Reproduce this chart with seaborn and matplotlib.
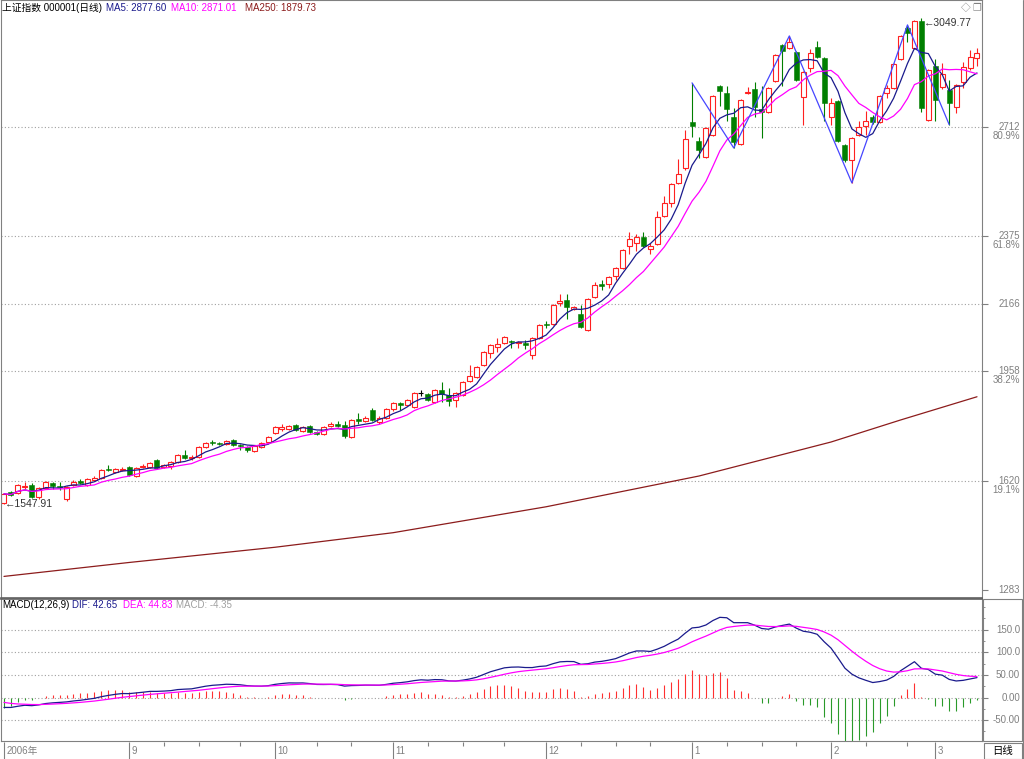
import numpy as np
import pandas as pd
import seaborn as sns
import matplotlib.pyplot as plt
from matplotlib.transforms import blended_transform_factory, offset_copy
from matplotlib.patches import Rectangle
from matplotlib.lines import Line2D

# daily OHLC, Shanghai Composite, 2006-08-08 .. 2007-03-09
opens = [1552, 1586, 1583, 1601, 1607, 1570, 1598, 1613, 1604, 1564,
         1607, 1620, 1607, 1623, 1629, 1657, 1648, 1654, 1663, 1635,
         1664, 1664, 1684, 1664, 1667, 1678, 1700, 1690, 1694, 1725,
         1740, 1737, 1734, 1746, 1731, 1725, 1712, 1725, 1740, 1768,
         1779, 1780, 1792, 1774, 1789, 1771, 1765, 1790, 1795, 1793,
         1755, 1811, 1805, 1839, 1802, 1814, 1842, 1860, 1855, 1848,
         1892, 1888, 1863, 1900, 1885, 1870, 1885, 1928, 1940, 1978,
         2015, 2033, 2046, 2052, 2046, 2046, 2009, 2060, 2105, 2104,
         2169, 2178, 2151, 2135, 2086, 2188, 2227, 2227, 2252, 2277,
         2345, 2354, 2373, 2336, 2351, 2438, 2478, 2540, 2586, 2729,
         2669, 2620, 2688, 2840, 2818, 2744, 2660, 2818, 2830, 2769,
         2760, 2855, 2966, 2957, 2945, 2805, 2895, 2960, 2926, 2744,
         2793, 2657, 2611, 2688, 2716, 2744, 2728, 2818, 2833, 2923,
         3018, 2957, 3040, 2734, 2901, 2836, 2827, 2775, 2852, 2895,
         2926]
highs = [1584, 1589, 1610, 1616, 1613, 1600, 1620, 1616, 1616, 1604,
         1623, 1626, 1629, 1635, 1657, 1669, 1660, 1663, 1666, 1663,
         1672, 1679, 1688, 1673, 1681, 1703, 1715, 1700, 1728, 1740,
         1746, 1740, 1747, 1750, 1734, 1728, 1731, 1740, 1759, 1790,
         1795, 1793, 1795, 1790, 1792, 1774, 1789, 1801, 1804, 1804,
         1811, 1830, 1820, 1845, 1820, 1845, 1863, 1863, 1873, 1894,
         1900, 1891, 1903, 1925, 1907, 1894, 1928, 1978, 1975, 2021,
         2043, 2062, 2067, 2055, 2052, 2055, 2064, 2104, 2113, 2166,
         2197, 2197, 2160, 2163, 2184, 2234, 2240, 2252, 2280, 2336,
         2387, 2382, 2387, 2354, 2453, 2499, 2540, 2614, 2705, 2849,
         2682, 2713, 2811, 2843, 2840, 2770, 2800, 2837, 2852, 2840,
         2836, 2938, 2970, 2994, 2948, 2885, 2954, 2979, 2929, 2802,
         2796, 2660, 2682, 2731, 2763, 2750, 2811, 2842, 2910, 2997,
         3028, 3043, 3049.77, 2892, 2922, 2911, 2858, 2845, 2913, 2951,
         2957]
lows = [1547.91, 1573, 1580, 1595, 1567, 1565, 1596, 1595, 1592, 1558,
        1604, 1610, 1604, 1620, 1626, 1650, 1645, 1650, 1635, 1632,
        1660, 1660, 1657, 1660, 1657, 1676, 1688, 1685, 1691, 1722,
        1731, 1731, 1731, 1728, 1715, 1710, 1710, 1722, 1737, 1765,
        1774, 1776, 1774, 1771, 1768, 1762, 1762, 1786, 1786, 1752,
        1752, 1795, 1802, 1805, 1796, 1811, 1836, 1839, 1852, 1845,
        1882, 1867, 1860, 1863, 1851, 1848, 1882, 1925, 1937, 1975,
        2000, 2018, 2043, 2030, 2030, 2027, 1995, 2057, 2091, 2101,
        2160, 2119, 2148, 2092, 2083, 2184, 2209, 2215, 2240, 2274,
        2320, 2330, 2342, 2320, 2348, 2435, 2466, 2537, 2580, 2682,
        2617, 2617, 2685, 2779, 2731, 2648, 2657, 2815, 2744, 2679,
        2757, 2852, 2840, 2954, 2855, 2719, 2883, 2925, 2731, 2719,
        2666, 2605, 2540, 2685, 2688, 2722, 2725, 2802, 2830, 2920,
        2975, 2954, 2759, 2731, 2731, 2830, 2720, 2756, 2833, 2890,
        2901]
closes = [1580, 1576, 1607, 1605, 1570, 1598, 1616, 1604, 1601, 1601,
          1616, 1614, 1626, 1629, 1654, 1654, 1657, 1657, 1638, 1660,
          1667, 1676, 1660, 1670, 1678, 1700, 1691, 1693, 1725, 1737,
          1737, 1734, 1744, 1731, 1728, 1716, 1728, 1737, 1756, 1787,
          1785, 1788, 1777, 1785, 1771, 1765, 1786, 1795, 1790, 1759,
          1808, 1805, 1814, 1808, 1814, 1842, 1860, 1855, 1870, 1891,
          1892, 1870, 1900, 1888, 1866, 1891, 1925, 1944, 1971, 2018,
          2040, 2043, 2064, 2049, 2049, 2040, 2060, 2101, 2101, 2163,
          2175, 2157, 2157, 2095, 2181, 2224, 2221, 2249, 2277, 2333,
          2367, 2373, 2345, 2345, 2435, 2478, 2537, 2568, 2675, 2715,
          2641, 2710, 2808, 2824, 2768, 2666, 2796, 2821, 2775, 2760,
          2833, 2935, 2948, 2976, 2858, 2882, 2941, 2929, 2787, 2787,
          2670, 2611, 2679, 2713, 2731, 2728, 2808, 2833, 2907, 2994,
          3003, 3040, 2771, 2889, 2796, 2876, 2787, 2842, 2898, 2929,
          2942]

# MA250 read at a few days (needs a year of history we don't have)
ma250_idx = [0, 18, 39, 56, 78, 100, 119, 129, 140]
ma250_val = [1325, 1368, 1415, 1460, 1540, 1635, 1740, 1808, 1879.73]

# hand-drawn wave line (peaks / troughs)
zig_idx = [99, 105, 113, 122, 130, 136]
zig_val = [2849, 2648, 2994, 2540, 3028, 2720]

# MACD state at the left edge of the panel
EMA12_START, EMA26_START, DEA_START = 1600, 1622, -8

month_idx = [0, 18, 39, 56, 78, 99, 119, 134]
month_lbl = ["2006年", "9", "10", "11", "12", "1", "2", "3"]
week_idx = [23, 28, 34, 45, 50, 61, 66, 72, 83, 88, 93, 104, 109, 114, 124, 130]

price_ticks = [2712, 2375, 2166, 1958, 1620, 1283]
fib_lbl = {2712: "80.9%", 2375: "61.8%", 1958: "38.2%", 1620: "19.1%"}
macd_ticks = [150, 100, 50, 0, -50]
macd_lbl = ["150.0", "100.0", "50.00", "0.00", "-50.00"]

RED, GREEN = "#ff2020", "#007f00"
NAVY, MAGENTA, BROWN = "#1a1a8c", "#ff00ff", "#8c1c1c"
ZIG, GRAY = "#4646ff", "#808080"

df = pd.DataFrame({"o": opens, "h": highs, "l": lows, "c": closes})
df["i"] = np.arange(len(df))
df["ma5"] = df.c.rolling(5, min_periods=1).mean()
df["ma10"] = df.c.rolling(10, min_periods=1).mean()


def ema(values, span, start):
    k = 2 / (span + 1)
    out, prev = [], start
    for v in values:
        prev = prev + k * (v - prev)
        out.append(prev)
    return np.array(out)


df["dif"] = ema(df.c, 12, EMA12_START) - ema(df.c, 26, EMA26_START)
df["dea"] = ema(df.dif, 9, DEA_START)
df["macd"] = 2 * (df.dif - df.dea)

sns.set_style("white")
plt.rcParams["font.family"] = ["Liberation Sans", "Noto Sans CJK SC", "DejaVu Sans"]

W, H = 1024, 759
fig = plt.figure(figsize=(W / 100, H / 100), dpi=100)


def box(x0, y0, x1, y1):
    return [x0 / W, 1 - y1 / H, (x1 - x0) / W, (y1 - y0) / H]


ax = fig.add_axes(box(1, 0, 982, 598))
axm = fig.add_axes(box(1, 599, 982, 741))
axs = fig.add_axes(box(1, 742, 982, 759))
XLIM = (-0.43, 140.72)

# ---- candles
up = df[df.c > df.o]
dn = df[df.c < df.o]
flat = df[df.c == df.o]
ax.vlines(up.i, up.c, up.h, color=RED, lw=0.8, zorder=2)
ax.vlines(up.i, up.l, up.o, color=RED, lw=0.8, zorder=2)
ax.bar(up.i, up.c - up.o, bottom=up.o, width=0.72, facecolor="white",
       edgecolor=RED, linewidth=0.8, zorder=2)
ax.vlines(dn.i, dn.l, dn.h, color=GREEN, lw=0.8, zorder=2)
ax.bar(dn.i, dn.o - dn.c, bottom=dn.c, width=0.72, color=GREEN,
       edgecolor=GREEN, linewidth=0.4, zorder=2)
ax.vlines(flat.i, flat.l, flat.h, color="black", lw=0.8, zorder=2)
ax.hlines(flat.c, flat.i - 0.36, flat.i + 0.36, color="black", lw=0.8, zorder=2)

sns.lineplot(data=df, x="i", y="ma5", ax=ax, color=NAVY, lw=0.9, zorder=3)
sns.lineplot(data=df, x="i", y="ma10", ax=ax, color=MAGENTA, lw=0.9, zorder=3)
sns.lineplot(x=ma250_idx, y=ma250_val, ax=ax, color=BROWN, lw=0.9, zorder=3)
sns.lineplot(x=zig_idx, y=zig_val, ax=ax, color=ZIG, lw=0.9, zorder=3)

ax.set_xlim(*XLIM)
ax.set_ylim(1258.3, 3104.9)
ax.hlines(price_ticks[:-1], *XLIM, colors="#a0a0a0", linestyles=(0, (1, 2)), lw=0.8, zorder=1)
ax.set_xticks([])
ax.set_yticks(price_ticks)
ax.tick_params(axis="y", left=False, right=True, labelleft=False, length=4,
               color=GRAY, direction="out")
ax.set_xlabel("")
ax.set_ylabel("")

tr = blended_transform_factory(fig.transFigure, ax.transData)
for p in price_ticks:
    ax.text(1020 / W, p, str(p), transform=tr, ha="right", va="center",
            fontsize=7, color=GRAY)
    if p in fib_lbl:
        ax.text(1020 / W, p, fib_lbl[p], ha="right", va="center", fontsize=7,
                color=GRAY, transform=offset_copy(tr, fig=fig, y=-9, units="dots"))

ax.text(df.i[0] + 0.1, lows[0], "←1547.91", ha="left", va="center", fontsize=7.5, color="#333333")
i_top = int(np.argmax(highs))
ax.text(i_top + 0.3, highs[i_top], "←3049.77", ha="left", va="top", fontsize=7.5, color="#333333")

# ---- MACD
pos = df[df.macd >= 0]
neg = df[df.macd < 0]
axm.vlines(pos.i, 0, pos.macd, color="#ff3030", lw=0.8)
axm.vlines(neg.i, 0, neg.macd, color="#2a9a2a", lw=0.8)
sns.lineplot(data=df, x="i", y="dif", ax=axm, color=NAVY, lw=0.9)
sns.lineplot(data=df, x="i", y="dea", ax=axm, color=MAGENTA, lw=0.9)
axm.set_xlim(*XLIM)
axm.set_ylim(-96.2, 217.9)
axm.hlines(macd_ticks, *XLIM, colors="#a0a0a0", linestyles=(0, (1, 2)), lw=0.8, zorder=0)
axm.set_xticks([])
axm.set_yticks(macd_ticks)
axm.set_yticks(np.arange(-75, 201, 25), minor=True)
axm.tick_params(axis="y", which="both", left=False, right=True, labelleft=False,
                direction="out", color=GRAY)
axm.tick_params(axis="y", which="major", length=4)
axm.tick_params(axis="y", which="minor", length=2)
axm.set_xlabel("")
axm.set_ylabel("")
trm = blended_transform_factory(fig.transFigure, axm.transData)
for v, s in zip(macd_ticks, macd_lbl):
    axm.text(1020 / W, v, s, transform=trm, ha="right", va="center", fontsize=7, color=GRAY)

# ---- date strip
axs.set_xlim(*XLIM)
axs.set_ylim(0, 1)
axs.axis("off")
axs.vlines(month_idx, 0, 1, color=GRAY, lw=0.8)
axs.vlines(week_idx, 0.75, 1, color=GRAY, lw=0.8)
for i, s in zip(month_idx, month_lbl):
    axs.text(i + 0.35, 0.45, s, ha="left", va="center", fontsize=7, color=GRAY)

for a in (ax, axm):
    for sp in a.spines.values():
        sp.set_color(GRAY)
        sp.set_linewidth(0.8)
ax.spines["bottom"].set_color("#606060")
ax.spines["bottom"].set_linewidth(1.2)
axm.spines["top"].set_color("#606060")
axm.spines["top"].set_linewidth(1.2)

# frame pieces on the right
fig.patches.append(Rectangle((983 / W, 1 - 741 / H), 39 / W, 142 / H, transform=fig.transFigure,
                             fill=False, ec=GRAY, lw=0.8))
fig.patches.append(Rectangle((984 / W, 1 - 759 / H), 38 / W, 16 / H, transform=fig.transFigure,
                             fill=False, ec=GRAY, lw=0.8))
fig.add_artist(Line2D([1023 / W, 1023 / W], [0, 1], color=GRAY, lw=0.8))
fig.text(1003 / W, 1 - 751 / H, "日线", ha="center", va="center", fontsize=7.5, color="black")

# ---- titles
def put(x, y, s, c):
    fig.text(x / W, 1 - y / H, s, ha="left", va="center", fontsize=7, color=c)


put(2, 8, "上证指数 000001(日线)", "black")
put(106, 8, "MA5: 2877.60", NAVY)
put(171, 8, "MA10: 2871.01", MAGENTA)
put(245, 8, "MA250: 1879.73", BROWN)
put(2, 605, "MACD(12,26,9)", "black")
put(72, 605, "DIF: 42.65", NAVY)
put(123, 605, "DEA: 44.83", MAGENTA)
put(176, 605, "MACD: -4.35", "#a0a0a0")
fig.text(966 / W, 1 - 8 / H, "◇", ha="center", va="center", fontsize=7, color=GRAY)
fig.text(977 / W, 1 - 8 / H, "❐", ha="center", va="center", fontsize=7, color=GRAY)

fig.savefig("out.png", dpi=100, facecolor="white")
